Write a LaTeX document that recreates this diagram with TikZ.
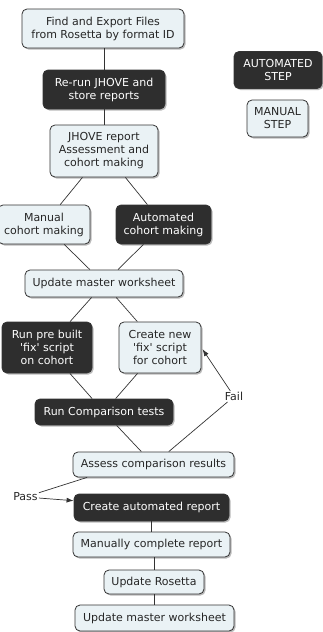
\documentclass[tikz,border=0pt]{standalone}
\usepackage{fontspec}
\setmainfont{DejaVu Sans}
\usetikzlibrary{shadows,arrows.meta}

\definecolor{boxfill}{HTML}{EAF2F5}
\definecolor{boxdark}{HTML}{2E2E2E}
\definecolor{lineclr}{HTML}{333333}

\begin{document}
\begin{tikzpicture}[x=1pt,y=-1pt,
	manstep/.style={draw=lineclr, fill=boxfill, rounded corners=5pt, line width=0.8pt,
		align=center, inner sep=1pt, text=black!85,
		font=\fontsize{11}{13}\selectfont,
		drop shadow={shadow xshift=1.5pt, shadow yshift=-1.5pt, fill=black!45, opacity=0.6}},
	autostep/.style={manstep, fill=boxdark, text=white},
	link/.style={draw=lineclr, line width=0.7pt},
	tag/.style={inner sep=1pt, text=black!85, font=\fontsize{11}{13}\selectfont}]
			\useasboundingbox (0,0) rectangle (323,632);

			% steps
			\node[manstep, minimum width=162pt, minimum height=39pt] (find) at (103,28.5) {Find and Export Files\\from Rosetta by format ID};
			\node[autostep, minimum width=122pt, minimum height=39pt] (rerun) at (104,89.5) {Re-run JHOVE and\\store reports};
			\node[manstep, minimum width=108pt, minimum height=52pt] (jhove) at (104,151) {JHOVE report\\Assessment and\\cohort making};
			\node[manstep, minimum width=92pt, minimum height=39pt] (mancohort) at (44,224.5) {Manual\\cohort making};
			\node[autostep, minimum width=95pt, minimum height=39pt] (autocohort) at (163.5,224.5) {Automated\\cohort making};
			\node[manstep, minimum width=158pt, minimum height=27pt] (update1) at (104,283.5) {Update master worksheet};
			\node[autostep, minimum width=90pt, minimum height=51pt] (prebuilt) at (47,347.5) {Run pre built\\\textquotesingle fix\textquotesingle\ script\\on cohort};
			\node[manstep, minimum width=82pt, minimum height=51pt] (newfix) at (160,347.5) {Create new\\\textquotesingle fix\textquotesingle\ script\\for cohort};
			\node[autostep, minimum width=138pt, minimum height=26pt] (compare) at (104,412) {Run Comparison tests};
			\node[manstep, minimum width=161pt, minimum height=25pt] (assess) at (153.5,464.5) {Assess comparison results};
			\node[autostep, minimum width=155pt, minimum height=27pt] (report) at (151.5,507.5) {Create automated report};
			\node[manstep, minimum width=157pt, minimum height=25pt] (complete) at (151.5,544.5) {Manually complete report};
			\node[manstep, minimum width=100pt, minimum height=24pt] (rosetta) at (154,582) {Update Rosetta};
			\node[manstep, minimum width=159pt, minimum height=26pt] (update2) at (154.5,618) {Update master worksheet};

			% legend
			\node[autostep, minimum width=88pt, minimum height=37pt] (autolegend) at (278,70) {AUTOMATED\\STEP};
			\node[manstep, minimum width=61pt, minimum height=37pt] (manlegend) at (277.5,118.5) {MANUAL\\STEP};

			% labels
			\node[tag] (fail) at (234,396.5) {Fail};
			\node[tag] (pass) at (25.5,497) {Pass};

			% links
			\draw[link] (rerun) -- (rerun |- find.south);
			\draw[link] (rerun) -- (jhove);
			\draw[link] (jhove) -- (mancohort);
			\draw[link] (jhove) -- (autocohort);
			\draw[link] (mancohort) -- (update1);
			\draw[link] (autocohort) -- (update1);
			\draw[link] (update1) -- (prebuilt);
			\draw[link] (update1) -- (newfix);
			\draw[link] (prebuilt) -- (compare);
			\draw[link] (newfix) -- (compare);
			\draw[link] (compare) -- (assess);
			\draw[link] (assess) -- (fail); % fail loop
			\draw[link, -{Latex[length=7pt,width=5pt]}, shorten >=2pt] (fail) -- (newfix.east);
			\draw[link] (assess.191) -- (pass); % pass
			\draw[link, -{Latex[length=7pt,width=5pt]}] (pass) -- (report.175);
			\draw[link] (report) -- (complete);
			\draw[link] (rosetta) -- (rosetta |- complete.south);
			\draw[link] (update2) -- (update2 |- rosetta.south);
		\end{tikzpicture}
\end{document}
